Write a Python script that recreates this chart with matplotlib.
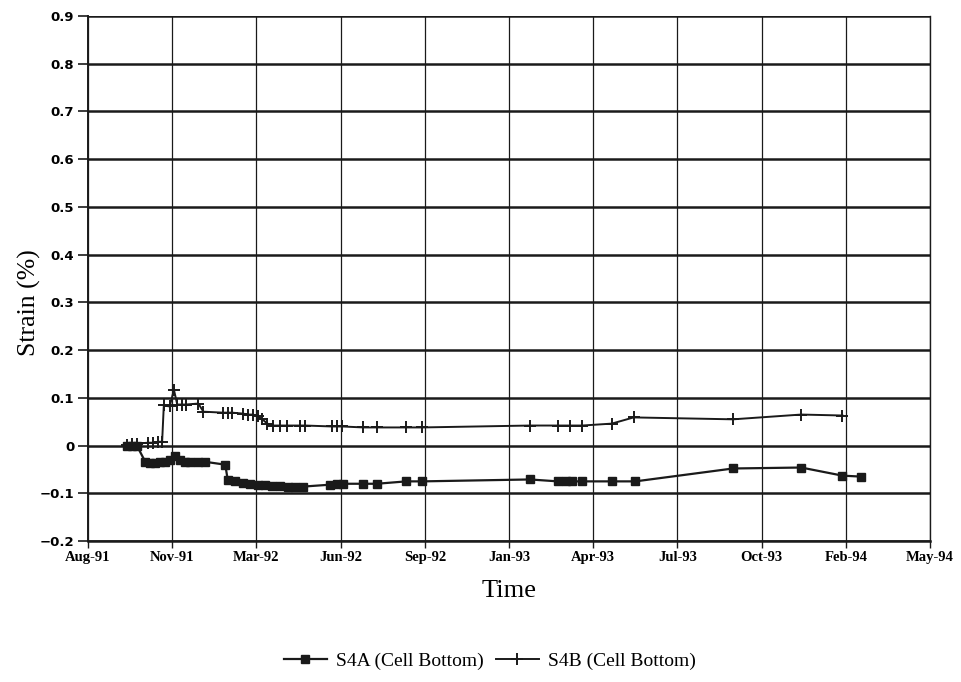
import numpy as np
import pandas as pd
import matplotlib
matplotlib.use("Agg")
import matplotlib.pyplot as plt
import matplotlib.dates as mdates

# S4B (Cell Bottom) - plus markers
s4b_dates = ["1991-10-05", "1991-10-11", "1991-10-17", "1991-10-30", "1991-11-05",
             "1991-11-11", "1991-11-16", "1991-11-18", "1991-11-25", "1991-11-30",
             "1991-12-04", "1991-12-10", "1991-12-14", "1991-12-29", "1992-01-04",
             "1992-01-27", "1992-02-02", "1992-02-07", "1992-02-20", "1992-02-26",
             "1992-03-03", "1992-03-09", "1992-03-14", "1992-03-20", "1992-03-27",
             "1992-04-04", "1992-04-12", "1992-04-28", "1992-05-04", "1992-06-05",
             "1992-06-11", "1992-06-17", "1992-07-12", "1992-07-28", "1992-09-01",
             "1992-09-20", "1993-01-26", "1993-02-28", "1993-03-14", "1993-03-29",
             "1993-05-03", "1993-05-29", "1993-09-24", "1993-12-14", "1994-02-01"]
s4b_strain = [0.002, 0.004, 0.004, 0.006, 0.006,
              0.008, 0.008, 0.084, 0.082, 0.117,
              0.086, 0.086, 0.086, 0.088, 0.071,
              0.069, 0.069, 0.069, 0.067, 0.065,
              0.065, 0.061, 0.055, 0.046, 0.042,
              0.042, 0.042, 0.042, 0.042, 0.040,
              0.040, 0.040, 0.038, 0.038, 0.038,
              0.038, 0.042, 0.042, 0.042, 0.042,
              0.046, 0.059, 0.055, 0.065, 0.063]

# S4A (Cell Bottom) - square markers
s4a_dates = ["1991-10-05", "1991-10-11", "1991-10-17", "1991-10-27", "1991-11-02",
             "1991-11-08", "1991-11-14", "1991-11-19", "1991-11-25", "1991-12-01",
             "1991-12-07", "1991-12-13", "1991-12-19", "1991-12-29", "1992-01-06",
             "1992-01-30", "1992-02-02", "1992-02-11", "1992-02-20", "1992-02-28",
             "1992-03-09", "1992-03-17", "1992-03-26", "1992-04-04", "1992-04-14",
             "1992-04-22", "1992-05-01", "1992-06-02", "1992-06-11", "1992-06-18",
             "1992-07-12", "1992-07-28", "1992-09-01", "1992-09-20", "1993-01-26",
             "1993-02-28", "1993-03-10", "1993-03-17", "1993-03-29", "1993-05-03",
             "1993-05-31", "1993-09-24", "1993-12-14", "1994-02-01", "1994-02-23"]
s4a_strain = [0.0, 0.0, 0.0, -0.034, -0.036,
              -0.036, -0.034, -0.034, -0.031, -0.021,
              -0.031, -0.034, -0.034, -0.034, -0.034,
              -0.040, -0.073, -0.075, -0.078, -0.080,
              -0.082, -0.082, -0.084, -0.084, -0.086,
              -0.086, -0.086, -0.082, -0.080, -0.080,
              -0.080, -0.080, -0.075, -0.075, -0.071,
              -0.075, -0.075, -0.075, -0.075, -0.075,
              -0.075, -0.048, -0.046, -0.063, -0.065]

tick_start = "1991-08-20"
tick_count = 11
y_ticks = [-0.2, -0.1, 0, 0.1, 0.2, 0.3, 0.4, 0.5, 0.6, 0.7, 0.8, 0.9]
y_labels = ["\u22120.2", "\u22120.1", "0", "0.1", "0.2", "0.3", "0.4", "0.5",
            "0.6", "0.7", "0.8", "0.9"]

s4a_x = pd.to_datetime(s4a_dates)
s4b_x = pd.to_datetime(s4b_dates)
x_ticks = pd.date_range(tick_start, periods=tick_count, freq="100D")

ink = "#1a1a1a"
fig = plt.figure(figsize=(9.61, 6.82), dpi=100)
ax = fig.add_axes([0.0916, 0.2067, 0.8762, 0.7698])

ax.plot(s4a_x, s4a_strain, color=ink, lw=1.6, marker="s", ms=6,
        mfc=ink, mec=ink, label="S4A (Cell Bottom)", zorder=3)
ax.plot(s4b_x, s4b_strain, color=ink, lw=1.4, marker="+", ms=8,
        mew=1.4, label="S4B (Cell Bottom)", zorder=3)

ax.set_xlim(x_ticks[0], x_ticks[-1])
ax.set_ylim(-0.2, 0.9)
ax.set_xticks(x_ticks)
ax.set_xticklabels([d.strftime("%b-%y") for d in x_ticks],
                   family="Liberation Serif", fontweight="bold", fontsize=10.5)
ax.set_yticks(y_ticks)
ax.set_yticklabels(y_labels, family="DejaVu Sans", fontweight="bold", fontsize=9.5)

# heavier horizontal grid, lighter vertical grid
ax.grid(axis="y", color=ink, lw=1.8)
ax.grid(axis="x", color=ink, lw=0.9)
ax.set_axisbelow(True)
ax.spines["top"].set_visible(False)
ax.spines["right"].set_color(ink)
ax.spines["right"].set_linewidth(1.0)
ax.spines["left"].set_color(ink)
ax.spines["left"].set_linewidth(1.4)
ax.spines["bottom"].set_color(ink)
ax.spines["bottom"].set_linewidth(1.8)
ax.tick_params(axis="y", length=7, width=1.2, color=ink, pad=3)
ax.tick_params(axis="x", length=5, width=1.0, color=ink, pad=2)

ax.set_ylabel("Strain (%)", family="Liberation Serif", fontsize=18.5)
ax.yaxis.set_label_coords(-0.056, 0.455)
ax.set_xlabel("Time", family="Liberation Serif", fontsize=19, labelpad=12)

leg = fig.legend(loc="lower center", bbox_to_anchor=(0.51, -0.008), ncol=2,
                 frameon=False, prop={"family": "Liberation Serif", "size": 14},
                 handlelength=2.2, columnspacing=0.6, handletextpad=0.5)

plt.savefig("out.png", dpi=100)
